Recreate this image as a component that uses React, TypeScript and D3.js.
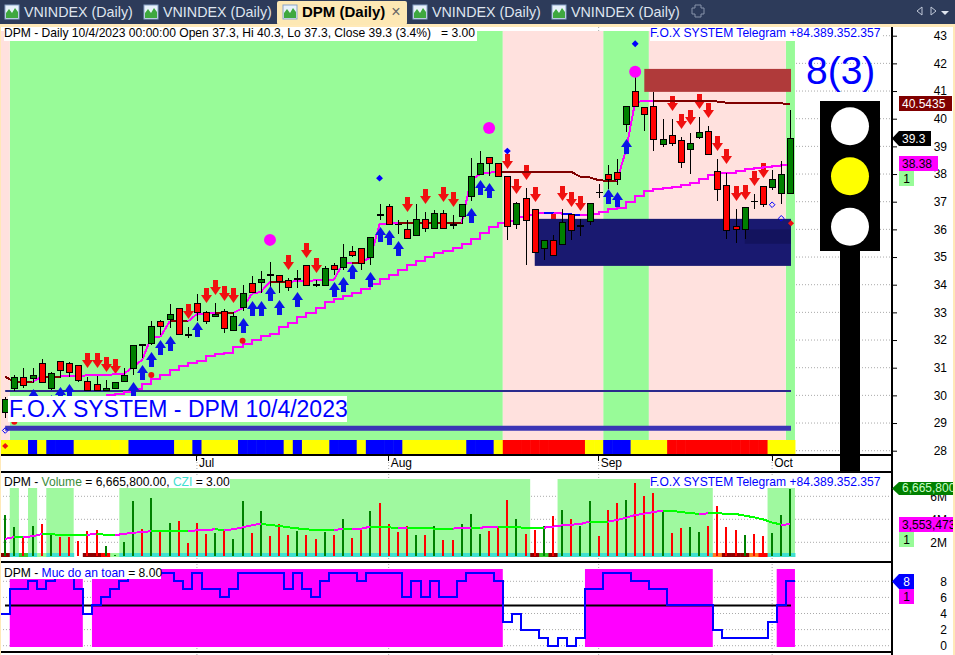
import React, { useRef, useEffect } from "react";
import * as d3 from "d3";

// candles, one per session (prices)
const opens = [29.41,30.26,30.68,30.64,31.18,30.26,31.23,31.16,31.09,30.53,30.4,30.18,30.26,30.53,31.0,31.87,31.91,32.68,32.75,33.15,32.22,33.33,33.0,32.86,33.04,32.38,33.18,34.05,34.09,34.38,34.34,34.16,34.23,34.7,34.01,
  33.99,34.71,34.65,35.2,35.31,35.01,36.57,36.83,36.18,36.0,35.81,36.36,36.06,36.58,36.18,36.49,37.22,38.01,38.6,38.39,37.92,36.18,37.12,36.72,35.31,35.6,35.48,36.54,36.12,36.32,37.35,37.99,38.06,
  39.8,40.99,40.41,40.45,39.1,39.4,39.22,38.89,39.35,39.54,38.1,37.59,36.11,36.0,37.01,37.55,37.52,37.3,37.3];
const highs = [29.95,30.74,30.98,30.98,31.3,30.85,31.25,31.22,31.1,30.68,30.7,30.56,30.5,30.98,31.81,31.87,32.7,32.73,33.3,33.15,32.46,33.67,33.06,33.33,33.11,33.0,33.99,34.3,34.5,34.81,34.34,34.23,34.53,34.7,34.17,
  34.67,34.77,35.46,35.4,35.31,35.71,36.92,36.92,36.34,36.34,36.92,36.61,36.7,36.7,36.52,36.9,38.58,38.83,38.6,38.39,37.92,37.0,37.48,36.72,35.6,35.8,36.73,36.54,36.37,36.94,37.64,38.31,38.54,
  40.45,41.5,40.41,40.98,39.99,40.0,39.33,39.5,40.05,39.73,38.53,38.05,36.72,36.8,37.28,37.55,38.15,38.47,40.3];
const lows = [29.2,30.17,30.26,30.44,30.44,30.2,30.62,30.68,30.5,30.17,30.14,30.14,30.24,30.5,30.74,31.34,31.82,32.18,32.42,32.23,32.09,32.7,32.58,32.85,32.27,32.36,33.06,33.71,33.69,33.93,33.71,33.79,33.87,33.98,33.93,
  33.99,34.35,34.53,35.01,34.53,34.71,36.34,36.19,35.83,35.7,35.81,35.92,36.06,36.06,36.01,36.2,37.02,38.01,37.93,37.92,35.61,36.01,34.72,35.19,34.89,35.08,35.43,35.61,35.76,36.16,37.13,37.46,37.6,
  39.53,40.45,39.55,38.83,38.99,39.01,38.23,38.0,39.25,38.74,37.04,35.64,35.52,35.64,36.75,36.8,37.42,36.92,37.3];
const closes = [29.87,30.65,30.36,30.72,30.47,30.82,30.9,30.83,30.54,30.18,30.18,30.26,30.5,30.73,31.81,31.85,32.5,32.5,32.93,32.23,32.2,33.0,32.7,32.93,32.42,32.86,33.69,33.75,34.2,34.36,34.15,33.9,34.25,33.98,33.99,
  34.59,34.58,35.01,35.08,34.8,35.71,36.55,36.19,36.18,35.7,36.36,36.06,36.58,36.06,36.16,36.9,37.92,38.39,38.39,37.92,36.13,36.94,36.35,35.19,35.6,35.08,36.25,35.96,36.14,36.94,37.35,37.83,37.83,
  40.45,40.45,40.18,39.25,39.25,39.13,38.45,39.11,39.51,38.74,37.45,35.97,36.0,36.8,37.01,36.9,37.81,37.99,39.3];

// fast trailing line, all sessions
const trailLine = [30.68,30.48,30.48,30.48,30.68,30.68,30.68,30.7,30.71,30.72,30.73,30.74,30.76,30.77,31.04,31.28,32.1,32.11,32.67,32.67,32.67,32.94,32.97,32.98,32.98,32.98,33.15,33.67,33.74,34.11,34.11,34.11,34.12,34.13,34.16,
  34.17,34.18,34.77,34.8,34.8,34.99,36.18,36.2,36.23,36.23,36.23,36.23,36.23,36.23,36.23,36.23,37.78,38.0,38.05,38.08,38.08,38.08,38.08,38.08,38.08,38.08,38.08,38.08,37.9,37.88,37.78,37.75,37.75,
  38.87,40.61,40.63,40.64,40.64,40.64,40.64,40.64,40.64,40.64,40.62,40.58,40.58,40.58,40.58,40.58,40.58,40.55,40.5435];

// slow step line starts at session 11 (anything earlier sits behind the caption)
const slowStart = 11;
const slowLine = [30.01,30.05,30.12,30.22,30.41,30.58,30.74,30.92,31.07,31.18,31.26,31.42,31.5,31.54,31.76,31.86,32.0,32.15,32.22,32.46,32.6,32.82,32.99,33.15,
  33.39,33.5,33.6,33.71,33.84,34.01,34.2,34.35,34.53,34.71,34.87,35.01,35.16,35.23,35.34,35.47,35.65,35.88,36.1,36.24,36.3,36.43,36.52,36.58,36.6,36.58,36.54,36.52,36.52,36.55,36.61,36.74,36.76,
  37.0,37.2,37.4,37.45,37.48,37.54,37.6,37.69,37.81,37.97,38.03,38.05,38.12,38.18,38.22,38.25,38.29,38.34,38.38];
const slowBlueBars = [60, 62, 63];

// signals: [session, price of the arrow tip]
const sellArrows = [[9,31.0],[10,31.0],[11,30.86],[12,30.77],[20,32.76],[22,33.35],[23,33.63],[24,33.41],[25,33.33],[31,34.53],[33,34.98],[34,34.44],
  [44,36.63],[46,36.92],[48,36.99],[49,36.81],[55,38.18],[56,37.28],[57,37.78],[58,36.99],[59,35.85],[60,36.1],[61,37.02],[62,36.81],[63,36.66],
  [73,40.29],[74,39.64],[75,39.78],[76,40.36],[77,40.04],[78,38.84],[79,38.37],[80,37.04],[81,37.06],[82,37.58],[83,37.87]];
const buyArrows = [[3,30.22],[5,30.0],[6,30.29],[7,30.41],[14,30.47],[15,31.09],[16,31.56],[17,32.0],[18,32.13],[21,32.65],[26,32.79],[27,33.42],[28,33.41],[29,33.97],[30,33.45],[32,33.73],
  [36,34.08],[37,34.28],[38,34.75],[40,34.45],[41,36.08],[42,35.98],[43,35.58],[51,36.77],[52,37.78],[53,37.67],[66,37.45],[67,37.34],[68,39.26]];
const bigDots = [[29,35.62],[53,39.66],[69,41.7]];
const blueDiamonds = [[41,37.85],[55,38.83],[69,42.71]];
const redDots = [[16,30.74],[26,31.97],[1,29.05]];
const hollowDiamonds = [[0,28.73],[84,36.89],[85,36.4]];
const redDiamonds = [[86,36.22],[0,28.17]];

// zones as [first session, last session]
const upZones = [[1,54],[66,70],[86,86]];
const downZones = [[0,0],[55,65],[71,85]];
const volZones = [[1,1],[3,3],[5,7],[13,57],[61,77],[84,86]];
const safeZones = [[1,8],[10,54],[64,77],[85,86]];
const stateStrip = ("YYY"+"B"+"Y"+"BBB"+"YYYYYY"+"BBBBB"+"YY"+"B"+"YYYY"+"BBBBB"+"Y"+"B"+"YYY"+"BBB"+"Y"+"BBBB"+"YYYYYYY"+"BBB"+"Y"+"RRRRRRRRR"+"YY"+"BBB"+"YYYY"+"RRRRRRRRRRR"+"YYY").split("");
const cziStrip = ("DTLTPTTTNDDRP"+"TTTTTTTTTTTTTTTTTTTTTTTTTTTTTTTTTTTTTTTTTTTTT"+"DLD"+"TTTTTTTTTTTTTTTTT"+"ODDDOR"+"TTT").split("");

// price boxes: [first session, top, bottom]
const supplyBox = [70, 41.8, 40.97];
const demandBox = [58, 36.38, 34.68];
const demandInner = [81, 36.0, 35.48];
const refLevels = [30.16, 28.81];

// volume in millions, its average, safety score
const volume = [4.37,3.30,2.55,3.42,3.59,2.72,2.46,2.46,2.11,2.98,3.07,1.68,0.90,2.03,5.59,3.16,5.85,2.98,3.68,3.85,1.94,3.68,2.72,2.81,3.07,2.29,5.59,2.81,4.72,2.55,3.59,2.63,2.98,2.63,2.29,
  2.90,2.63,4.03,2.37,3.07,4.72,5.42,3.59,2.90,3.42,2.63,2.63,3.42,2.20,2.20,3.59,4.46,2.72,2.98,3.24,5.68,4.03,2.72,3.07,3.42,4.29,4.81,4.03,3.42,5.59,2.55,4.81,5.42,5.68,7.16,
  6.03,6.29,4.72,2.81,3.24,3.33,2.90,3.42,5.16,3.33,3.07,2.63,2.72,2.55,2.81,4.37,6.6658];
const volumeAvg = [2.29,2.46,2.46,2.52,2.72,2.69,2.66,2.66,2.66,2.66,2.72,2.66,2.63,2.72,2.84,2.87,2.98,2.98,2.98,2.98,2.98,3.04,3.07,3.13,3.07,3.13,3.3,3.48,3.62,3.5,3.42,3.3,3.21,3.13,3.07,
  3.07,3.07,3.16,3.16,3.19,3.36,3.36,3.3,3.24,3.27,3.27,3.24,3.19,3.19,3.19,3.24,3.27,3.27,3.33,3.36,3.36,3.3,3.27,3.27,3.27,3.36,3.48,3.53,3.59,3.79,3.79,3.79,3.94,4.14,4.37,
  4.49,4.63,4.75,4.75,4.63,4.55,4.46,4.52,4.52,4.49,4.46,4.32,4.17,4.0,3.72,3.54,3.553];
const safety = [4,7,7,8,7,8,9,9,7,4,5,6,7,8,9,9,9,9,9,8,7,9,7,7,6,7,9,9,9,9,9,7,9,7,6,
  8,9,9,9,8,9,9,9,9,6,8,6,8,6,6,8,9,9,9,8,3,4,2,2,1,0,1,0,1,7,7,9,9,9,8,
  8,7,7,5,5,5,5,5,2,1,1,1,1,1,3,5,8];

const priceTicks = d3.range(28, 44);
const volumeTicks = [2, 4, 6];
const safetyTicks = [0, 2, 4, 6, 8];
const monthLabels = ["Jul", "Aug", "Sep", "Oct"];
const monthBars = [21, 42, 65, 84];
const tabTitles = ["VNINDEX (Daily)", "VNINDEX (Daily)", "DPM (Daily)", "VNINDEX (Daily)", "VNINDEX (Daily)"];
const tabIconX = [5, 144, 283, 413, 552];

const FONT = "'Liberation Sans', Arial, sans-serif";
const stateColors = { Y: "#ffff00", B: "#0000ff", R: "#ff0000" };
const cziColors = { T: "#40e0d0", D: "#8b0000", L: "#32cd32", P: "#98fb98", N: "none", R: "#ff0000", O: "#ff7f27" };

export default function App() {
  const svgRef = useRef(null);

  useEffect(() => {
    const svg = d3.select(svgRef.current).html("");
    const bars = d3.range(closes.length);

    // x / y scales
    const x = d3.scaleBand().domain(bars).range([0.64, 794.95]);
    const cx = (i) => x(i) + x.bandwidth() / 2;
    const yPrice = d3.scaleLinear().domain([28, 43]).range([450.7, 35.7]);
    const yVol = d3.scaleLinear().domain([2, 6]).range([542.3, 496.3]);
    const ySafe = d3.scaleLinear().domain([0, 8]).range([645.7, 581.3]);

    const addText = (g, px, py, str, size, fill, anchor = "start", weight = "normal") =>
      g.append("text").attr("x", px).attr("y", py).attr("font-family", FONT).attr("font-size", size)
        .attr("fill", fill).attr("text-anchor", anchor).attr("font-weight", weight).text(str);

    const band = (g, first, last, top, bottom, fill) =>
      g.append("rect").attr("x", x(first)).attr("y", top)
        .attr("width", x(last) + x.bandwidth() - x(first)).attr("height", bottom - top).attr("fill", fill);

    // grid first, zones cover it
    const grid = svg.append("g").attr("stroke", "#aaa").attr("stroke-dasharray", "1,2");
    priceTicks.forEach((t) => grid.append("line").attr("x1", 796).attr("x2", 892).attr("y1", yPrice(t)).attr("y2", yPrice(t)));
    volumeTicks.forEach((t) => grid.append("line").attr("x1", 0).attr("x2", 892).attr("y1", yVol(t)).attr("y2", yVol(t)));
    safetyTicks.forEach((t) => grid.append("line").attr("x1", 0).attr("x2", 892).attr("y1", ySafe(t)).attr("y2", ySafe(t)));
    monthBars.forEach((b) => grid.append("line").attr("x1", cx(b)).attr("x2", cx(b)).attr("y1", 24).attr("y2", 655));

    // main panel
    const main = svg.append("g");
    upZones.forEach(([a, b]) => band(main, a, b, 31, 455, "#98fb98"));
    downZones.forEach(([a, b]) => band(main, a, b, 31, 455, "#ffe1de"));
    main.append("g").selectAll("rect").data(stateStrip).join("rect")
      .attr("x", (d, i) => x(i)).attr("y", 440).attr("width", x.bandwidth() + 0.5).attr("height", 14)
      .attr("fill", (d) => stateColors[d]);

    main.append("line").attr("x1", cx(0)).attr("x2", 791).attr("y1", yPrice(refLevels[0])).attr("y2", yPrice(refLevels[0]))
      .attr("stroke", "#2a2a8c").attr("stroke-width", 2);
    main.append("line").attr("x1", cx(0)).attr("x2", 791).attr("y1", yPrice(refLevels[1])).attr("y2", yPrice(refLevels[1]))
      .attr("stroke", "#3b35b5").attr("stroke-width", 5);

    const arrow = (g, i, price, dir, fill) => {
      const tx = Math.round(cx(i)) + 0.5, ty = Math.round(yPrice(price));
      const p = d3.path();
      p.moveTo(tx, ty);
      p.lineTo(tx + 5.5, ty + dir * 8);
      p.lineTo(tx + 2.5, ty + dir * 8);
      p.lineTo(tx + 2.5, ty + dir * 15);
      p.lineTo(tx - 2.5, ty + dir * 15);
      p.lineTo(tx - 2.5, ty + dir * 8);
      p.lineTo(tx - 5.5, ty + dir * 8);
      p.closePath();
      g.append("path").attr("d", p.toString()).attr("fill", fill);
    };
    sellArrows.forEach(([i, p]) => arrow(main, i, p, -1, "#f01010"));

    // boxes sit over the red arrows but under the candles
    main.append("rect").attr("x", cx(supplyBox[0])).attr("width", 791 - cx(supplyBox[0]))
      .attr("y", yPrice(supplyBox[1])).attr("height", yPrice(supplyBox[2]) - yPrice(supplyBox[1])).attr("fill", "#b03a3a");
    main.append("rect").attr("x", cx(demandBox[0])).attr("width", 791 - cx(demandBox[0]))
      .attr("y", yPrice(demandBox[1])).attr("height", yPrice(demandBox[2]) - yPrice(demandBox[1])).attr("fill", "#191970");
    main.append("rect").attr("x", cx(demandInner[0])).attr("width", 791 - cx(demandInner[0]))
      .attr("y", yPrice(demandInner[1])).attr("height", yPrice(demandInner[2]) - yPrice(demandInner[1])).attr("fill", "#13135e");

    // slow line, stepped
    const stepLine = d3.line().x((d) => cx(d[0])).y((d) => yPrice(d[1])).curve(d3.curveStepAfter);
    const slowPts = slowLine.map((v, k) => [k + slowStart, v]);
    main.append("path").attr("d", stepLine(slowPts)).attr("fill", "none").attr("stroke", "#ff00ff").attr("stroke-width", 2).attr("shape-rendering", "crispEdges");
    slowBlueBars.forEach((b) => {
      const seg = [[b - 1, slowLine[b - 1 - slowStart]], [b, slowLine[b - slowStart]]];
      main.append("path").attr("d", stepLine(seg)).attr("fill", "none").attr("stroke", "#0000ff").attr("stroke-width", 2).attr("shape-rendering", "crispEdges");
    });

    // trailing line: magenta while rising, dark red otherwise
    trailLine.forEach((v, i) => {
      if (i === 0) return;
      main.append("line").attr("x1", cx(i - 1)).attr("x2", cx(i))
        .attr("y1", yPrice(trailLine[i - 1])).attr("y2", yPrice(v)).attr("shape-rendering", "crispEdges")
        .attr("stroke", v > trailLine[i - 1] ? "#ff00ff" : "#800000").attr("stroke-width", 2);
    });

    // candles
    const candles = main.append("g").attr("shape-rendering", "crispEdges");
    bars.forEach((i) => {
      const left = Math.round(cx(i)) - 3;
      candles.append("line").attr("x1", left + 3.5).attr("x2", left + 3.5)
        .attr("y1", yPrice(highs[i])).attr("y2", yPrice(lows[i])).attr("stroke", "#000");
      const top = Math.round(yPrice(Math.max(opens[i], closes[i])));
      const bot = Math.round(yPrice(Math.min(opens[i], closes[i])));
      if (opens[i] === closes[i]) {
        candles.append("line").attr("x1", left).attr("x2", left + 7).attr("y1", top + 0.5).attr("y2", top + 0.5).attr("stroke", "#000");
      } else {
        candles.append("rect").attr("x", left + 0.5).attr("y", top + 0.5).attr("width", 6).attr("height", Math.max(bot - top, 1))
          .attr("fill", closes[i] > opens[i] ? "#008000" : "#ff0000").attr("stroke", "#000");
      }
    });

    buyArrows.forEach(([i, p]) => arrow(main, i, p, 1, "#0a14e6"));

    const sym = d3.symbol();
    bigDots.forEach(([i, p]) => main.append("circle").attr("cx", cx(i)).attr("cy", yPrice(p)).attr("r", 6).attr("fill", "#ff00ff"));
    redDots.forEach(([i, p]) => main.append("circle").attr("cx", cx(i)).attr("cy", yPrice(p)).attr("r", 3).attr("fill", "#f01010"));
    blueDiamonds.forEach(([i, p]) => main.append("path").attr("d", sym.type(d3.symbolDiamond2).size(30)()).attr("transform", `translate(${cx(i)},${yPrice(p)})`).attr("fill", "#0000ff"));
    hollowDiamonds.forEach(([i, p]) => main.append("path").attr("d", sym.type(d3.symbolDiamond2).size(20)()).attr("transform", `translate(${cx(i)},${yPrice(p)})`).attr("fill", "none").attr("stroke", "#0000ff"));
    redDiamonds.forEach(([i, p]) => main.append("path").attr("d", sym.type(d3.symbolDiamond2).size(24)()).attr("transform", `translate(${cx(i) + (i === 86 ? 0.6 : 0)},${yPrice(p)})`).attr("fill", "#f01010"));

    // volume panel
    const vol = svg.append("g");
    volZones.forEach(([a, b]) => band(vol, a, b, 479, 557, "#9ff99f"));
    vol.append("g").selectAll("rect").data(cziStrip).join("rect")
      .attr("x", (d, i) => x(i)).attr("y", 553).attr("width", x.bandwidth() + 0.5).attr("height", 4)
      .attr("fill", (d) => cziColors[d]);
    vol.append("g").attr("shape-rendering", "crispEdges").selectAll("rect").data(volume).join("rect")
      .attr("x", (d, i) => Math.round(cx(i)) - 1).attr("width", 2)
      .attr("y", (d) => yVol(d)).attr("height", (d) => 556 - yVol(d))
      .attr("fill", (d, i) => (closes[i] > opens[i] ? "#008000" : "#ff0000"));
    volumeAvg.forEach((v, i) => {
      if (i === 0) return;
      vol.append("line").attr("x1", cx(i - 1)).attr("x2", cx(i)).attr("y1", yVol(volumeAvg[i - 1])).attr("y2", yVol(v))
        .attr("shape-rendering", "crispEdges")
        .attr("stroke", v > volumeAvg[i - 1] ? "#ff00ff" : "#00ff00").attr("stroke-width", 2);
    });

    // safety panel
    const safe = svg.append("g");
    safeZones.forEach(([a, b]) => band(safe, a, b, 569, 647, "#ff00ff"));
    safe.append("line").attr("x1", 5).attr("x2", 791).attr("y1", ySafe(5)).attr("y2", ySafe(5)).attr("stroke", "#000").attr("stroke-width", 2);
    const safePts = [];
    safety.forEach((v, i) => { safePts.push([x(i), v]); safePts.push([x(i) + x.bandwidth(), v]); });
    safe.append("path").attr("d", d3.line().x((d) => d[0]).y((d) => ySafe(d[1]))(safePts))
      .attr("fill", "none").attr("stroke", "#0000ff").attr("stroke-width", 2).attr("shape-rendering", "crispEdges");

    // panel frames
    const frame = svg.append("g").attr("stroke", "#000").attr("stroke-width", 2).attr("shape-rendering", "crispEdges");
    [455, 472, 562, 652].forEach((ly) => frame.append("line").attr("x1", 0).attr("x2", 892).attr("y1", ly).attr("y2", ly));
    frame.append("line").attr("x1", 892).attr("x2", 892).attr("y1", 24).attr("y2", 655);

    // date axis
    const dates = svg.append("g");
    monthBars.forEach((b, k) => {
      dates.append("line").attr("x1", cx(b)).attr("x2", cx(b)).attr("y1", 455).attr("y2", 461).attr("stroke", "#000").attr("shape-rendering", "crispEdges");
      addText(dates, cx(b) + 2, 467, monthLabels[k], 12, "#000");
    });

    // right axes
    const axisPrice = svg.append("g").attr("transform", "translate(892,0)")
      .call(d3.axisRight(yPrice).tickValues(priceTicks).tickSize(5).tickFormat(d3.format("d")));
    axisPrice.select(".domain").remove();
    const axisVol = svg.append("g").attr("transform", "translate(892,0)")
      .call(d3.axisRight(yVol).tickValues(volumeTicks).tickSize(0).tickFormat((d) => d + "M"));
    axisVol.select(".domain").remove();
    const axisSafe = svg.append("g").attr("transform", "translate(892,0)")
      .call(d3.axisRight(ySafe).tickValues(safetyTicks).tickSize(0).tickFormat(d3.format("d")));
    axisSafe.select(".domain").remove();
    svg.selectAll(".tick text").attr("x", 55).attr("text-anchor", "end").attr("font-family", FONT).attr("font-size", 12).attr("fill", "#000");

    // traffic light
    const light = svg.append("g");
    light.append("rect").attr("x", 820).attr("y", 101).attr("width", 60).attr("height", 150).attr("fill", "#000");
    light.append("rect").attr("x", 840).attr("y", 251).attr("width", 20).attr("height", 220).attr("fill", "#000");
    [[126.3, "#fff"], [176.3, "#ffff00"], [226.7, "#fff"]].forEach(([cy, c]) =>
      light.append("circle").attr("cx", 850).attr("cy", cy).attr("r", 19).attr("fill", c));
    addText(svg, 806, 84, "8(3)", 39, "#0000ff");

    // captions with white boxes
    const caption = (bx, by, bw, bh, tx, ty, parts, size = 12.08) => {
      svg.append("rect").attr("x", bx).attr("y", by).attr("width", bw).attr("height", bh).attr("fill", "#fff");
      const t = svg.append("text").attr("x", tx).attr("y", ty).attr("font-family", FONT).attr("font-size", size).style("white-space", "pre");
      parts.forEach(([s, c]) => t.append("tspan").attr("fill", c).text(s));
    };
    caption(4, 27, 473, 14, 4, 37, [["DPM - Daily 10/4/2023 00:00:00 Open 37.3, Hi 40.3, Lo 37.3, Close 39.3 (3.4%)   = 3.00", "#000"]]);
    caption(650, 27, 232, 14, 650, 37, [["F.O.X SYSTEM Telegram +84.389.352.357", "#0000ff"]]);
    caption(8, 396, 339, 26, 9, 417, [["F.O.X SYSTEM - DPM 10/4/2023", "#0000ff"]], 23);
    caption(4, 475, 226, 13, 4, 486, [["DPM - ", "#000"], ["Volume", "#3a8a3a"], [" = 6,665,800.00, ", "#000"], ["CZI", "#40e0d0"], [" = 3.00", "#000"]]);
    caption(650, 475, 232, 13, 650, 486, [["F.O.X SYSTEM Telegram +84.389.352.357", "#0000ff"]]);
    caption(4, 566, 157, 13, 4, 577, [["DPM - ", "#000"], ["Muc do an toan", "#0000ff"], [" = 8.00", "#000"]]);

    // value tags on the right
    const tag = (tx, ty, w, h, bg, fg, str, pointed = false) => {
      const g = svg.append("g");
      if (pointed) g.append("path").attr("d", `M${tx - 7},${ty + h / 2}L${tx},${ty}V${ty + h}Z`).attr("fill", bg);
      g.append("rect").attr("x", tx).attr("y", ty).attr("width", w).attr("height", h).attr("fill", bg);
      addText(g, tx + (str.length < 2 ? w / 2 : 3), ty + h - 3.5, str, 12, fg, str.length < 2 ? "middle" : "start");
    };
    tag(899, 96, 53, 15, "#800000", "#fff", "40.5435");
    tag(899, 131, 32, 15, "#000", "#fff", "39.3", true);
    tag(899, 156, 39, 15, "#ff00ff", "#000", "38.38");
    tag(899, 171, 15, 15, "#98fb98", "#000", "1");
    tag(899, 482, 54, 13, "#008000", "#c8ffc8", "6,665,800", true);
    tag(899, 517, 54, 15, "#ff00ff", "#000", "3,553,473");
    tag(899, 532, 15, 15, "#98fb98", "#000", "1");
    tag(899, 574, 15, 15, "#0000ff", "#fff", "8", true);
    tag(899, 589, 15, 15, "#ff00ff", "#000", "1");

    // tab bar
    const tabs = svg.append("g");
    tabs.append("rect").attr("width", 955).attr("height", 24).attr("fill", "#2d3b5a");
    tabs.append("rect").attr("y", 24).attr("width", 955).attr("height", 3).attr("fill", "#ffe9b8");
    tabs.append("rect").attr("x", 953).attr("y", 24).attr("width", 2).attr("height", 631).attr("fill", "#ffe9b8");
    tabs.append("rect").attr("x", 0).attr("y", 24).attr("width", 1).attr("height", 631).attr("fill", "#ffe9b8");
    tabs.append("rect").attr("x", 277).attr("y", 1).attr("width", 130).attr("height", 24).attr("rx", 2).attr("fill", "#fde8b4");
    tabTitles.forEach((title, k) => {
      const ix = tabIconX[k];
      tabs.append("rect").attr("x", ix).attr("y", 5).attr("width", 14).attr("height", 14).attr("fill", "#e8f2fb").attr("stroke", "#8aa4c8");
      tabs.append("path").attr("d", `M${ix + 1},18V13L${ix + 4},9L${ix + 7},13L${ix + 10},8L${ix + 13},12V18Z`).attr("fill", "#3fa83f");
      const active = k === 2;
      addText(tabs, ix + 19, 17, title, active ? 15 : 14.3, active ? "#000" : "#dfe5ef", "start", active ? "bold" : "normal");
    });
    addText(tabs, 396, 17, "×", 16, "#666", "middle");
    tabs.append("path").attr("d", "M695,5h6v3h3v6h-3v3h-6v-3h-3v-6h3Z").attr("fill", "none").attr("stroke", "#8894aa");
    tabs.append("path").attr("d", "M922,7L917,11L922,15Z").attr("fill", "none").attr("stroke", "#c0c8d8");
    tabs.append("path").attr("d", "M931,7L936,11L931,15Z").attr("fill", "none").attr("stroke", "#c0c8d8");
    tabs.append("path").attr("d", "M941,11h8l-4,4Z").attr("fill", "#dfe5ef");
  }, []);

  return (
    <svg ref={svgRef} width={955} height={655}
      style={{ position: "fixed", left: 0, top: 0, background: "#fff" }} />
  );
}
